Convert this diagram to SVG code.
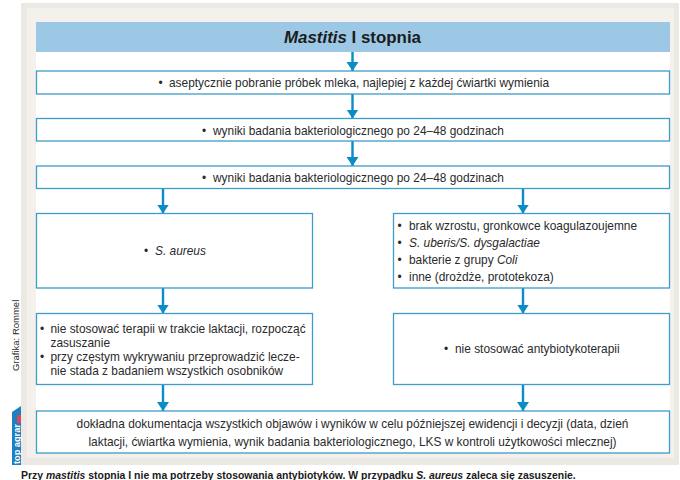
<svg xmlns="http://www.w3.org/2000/svg" width="680" height="480" viewBox="0 0 680 480">
<defs>
<marker id="ah" markerUnits="userSpaceOnUse" markerWidth="10" markerHeight="13" refX="9" refY="6.500" orient="auto"><path d="M0 0.500L9 6.500L0 12.500Z" fill="#0b8cc7"/></marker>
</defs>
<style>
text{font-family:"Liberation Sans",Arial,sans-serif;fill:#2a2a2c;font-size:11.9px}
.b{fill:#fff;stroke:#3d9cc9;stroke-width:1.3}
.c{stroke:#0b8cc7;stroke-width:2.4;fill:none;marker-end:url(#ah)}
.m{text-anchor:middle}
.i{font-style:italic}
</style>
<rect width="680" height="480" fill="#fff"/>
<rect x="21" y="3" width="658" height="462" fill="#ece8e3"/>
<rect x="27" y="8" width="647" height="450" fill="#f4f1ed"/>
<rect x="36" y="22" width="634" height="431" fill="#fff"/>
<g id="title"><rect x="36" y="22" width="634" height="30" fill="#9cc8e6"/>
<text x="352.5" y="43" class="m" style="font-size:16.9px;font-weight:bold;fill:#1c1c20"><tspan class="i">Mastitis</tspan> I stopnia</text></g>
<g id="connectors">
<path class="c" d="M352.5 52V71"/><path class="c" d="M352.5 94V118.5"/><path class="c" d="M352.5 141V166"/>
<path class="c" d="M163 188.5V213.5"/><path class="c" d="M523 188.5V213.5"/>
<path class="c" d="M163 288V313.5"/><path class="c" d="M523 288V313.5"/>
<path class="c" d="M163 384.5V411"/><path class="c" d="M523 384.5V411"/>
</g>
<g id="n1"><rect class="b" x="36.5" y="71" width="633" height="23"/><text x="158.500" y="87">•</text><text x="169" y="87">aseptycznie pobranie próbek mleka, najlepiej z każdej ćwiartki wymienia</text></g>
<g id="n2"><rect class="b" x="36.5" y="118.5" width="633" height="22.5"/><text x="202" y="135">•</text><text x="213" y="135">wyniki badania bakteriologicznego po 24–48 godzinach</text></g>
<g id="n3"><rect class="b" x="36.5" y="166" width="633" height="22.5"/><text x="202" y="182">•</text><text x="213" y="182">wyniki badania bakteriologicznego po 24–48 godzinach</text></g>
<g id="n4"><rect class="b" x="36.5" y="213.5" width="276" height="74.5"/><text x="144" y="255">•</text><text x="155" y="255" class="i">S. aureus</text></g>
<g id="n5"><rect class="b" x="393.5" y="213.5" width="276" height="74.5"/>
<text x="397.500" y="230">•</text><text x="409" y="230">brak wzrostu, gronkowce koagulazoujemne</text>
<text x="397.500" y="247">•</text><text x="409" y="247" class="i">S. uberis/S. dysgalactiae</text>
<text x="397.500" y="264">•</text><text x="409" y="264">bakterie z grupy <tspan class="i">Coli</tspan></text>
<text x="397.500" y="281">•</text><text x="409" y="281">inne (drożdże, prototekoza)</text></g>
<g id="n6"><rect class="b" x="36.5" y="313.5" width="276" height="71"/>
<text x="40" y="333">•</text><text x="50.500" y="333">nie stosować terapii w trakcie laktacji, rozpocząć</text>
<text x="50.500" y="347">zasuszanie</text>
<text x="40" y="361">•</text><text x="50.500" y="361">przy częstym wykrywaniu przeprowadzić lecze-</text>
<text x="50.500" y="375">nie stada z badaniem wszystkich osobników</text></g>
<g id="n7"><rect class="b" x="393.500" y="313.5" width="276" height="71"/><text x="444" y="353">•</text><text x="455" y="353">nie stosować antybiotykoterapii</text></g>
<g id="n8"><rect class="b" x="36.5" y="411" width="633" height="42"/>
<text x="352.500" y="428" class="m">dokładna dokumentacja wszystkich objawów i wyników w celu późniejszej ewidencji i decyzji (data, dzień</text>
<text x="352.500" y="446" class="m">laktacji, ćwiartka wymienia, wynik badania bakteriologicznego, LKS w kontroli użytkowości mlecznej)</text></g>
<text transform="translate(19 371) rotate(-90)" style="font-size:9.500px">Grafika: Rommel</text>
<path d="M12 412L21 406V465H12Z" fill="#1f7fc0"/>
<rect x="17" y="415" width="4" height="8" fill="#d8475a"/>
<text transform="translate(19.500 464) rotate(-90)" style="font-size:9.200px;font-weight:bold;fill:#fff">top agrar</text>
<text x="21" y="479" style="font-size:10.450px;font-weight:bold;fill:#1a1a1a">Przy <tspan class="i">mastitis</tspan> stopnia I nie ma potrzeby stosowania antybiotyków. W przypadku <tspan class="i">S. aureus</tspan> zaleca się zasuszenie.</text>
</svg>
